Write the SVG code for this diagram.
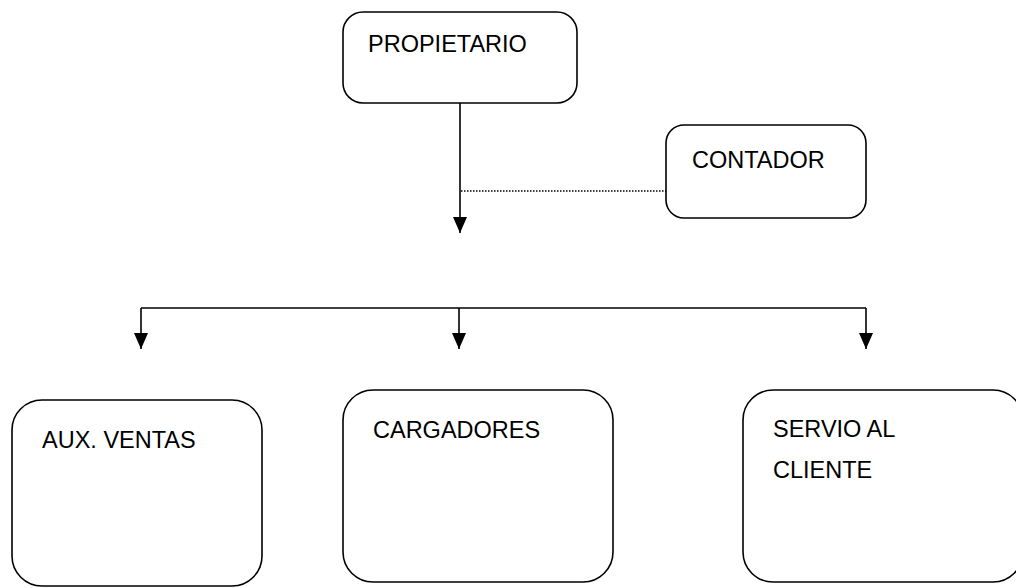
<svg xmlns="http://www.w3.org/2000/svg" width="1016" height="588" viewBox="0 0 1016 588">
<style>
.box{fill:#fff;stroke:#000;stroke-width:1.6}
.lbl{font-family:"Liberation Sans",Arial,sans-serif;font-size:23.5px;fill:#000}
.ln{fill:none;stroke:#000;stroke-width:1.6}
.dot{fill:none;stroke:#000;stroke-width:1.4;stroke-dasharray:1.5 1.5}
</style>
<defs>
<marker id="arr" markerUnits="userSpaceOnUse" markerWidth="16" markerHeight="14" viewBox="0 -7 16 14" refX="16" refY="0" orient="auto">
<path d="M0,-7 L16,0 L0,7 z" fill="#000"/>
</marker>
</defs>
<rect width="1016" height="588" fill="#fff"/>
<g id="connectors">
<line class="ln" x1="460" y1="103" x2="460" y2="233" marker-end="url(#arr)"/>
<line class="dot" x1="461" y1="191" x2="666" y2="191"/>
<line class="ln" x1="141" y1="308" x2="866" y2="308"/>
<line class="ln" x1="141" y1="308" x2="141" y2="349" marker-end="url(#arr)"/>
<line class="ln" x1="459" y1="308" x2="459" y2="349" marker-end="url(#arr)"/>
<line class="ln" x1="866" y1="308" x2="866" y2="349" marker-end="url(#arr)"/>
</g>
<g id="propietario">
<rect class="box" x="343" y="12" width="234" height="91" rx="20"/>
<text class="lbl" x="368" y="52">PROPIETARIO</text>
</g>
<g id="contador">
<rect class="box" x="666" y="125" width="200" height="93" rx="18"/>
<text class="lbl" x="692" y="168">CONTADOR</text>
</g>
<g id="aux-ventas">
<rect class="box" x="12" y="400" width="250" height="186" rx="30"/>
<text class="lbl" x="42" y="448">AUX. VENTAS</text>
</g>
<g id="cargadores">
<rect class="box" x="343" y="390" width="270" height="192" rx="30"/>
<text class="lbl" x="373" y="438">CARGADORES</text>
</g>
<g id="servicio">
<rect class="box" x="743" y="390" width="280" height="192" rx="30"/>
<text class="lbl" x="773" y="437">SERVIO AL</text>
<text class="lbl" x="773" y="478">CLIENTE</text>
</g>
</svg>
